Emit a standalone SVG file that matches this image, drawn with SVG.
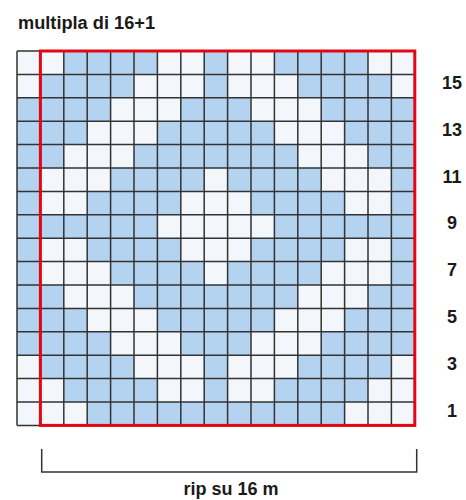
<svg xmlns="http://www.w3.org/2000/svg" width="466" height="500" viewBox="0 0 466 500">
<style>
.bg{fill:#f3f7fb}
.b{fill:#b4d3f1}
.grid{fill:none;stroke:#333;stroke-width:1.5}
.rep{fill:none;stroke:#e30613;stroke-width:3}
.t{font-family:"Liberation Sans",Arial,sans-serif;font-weight:bold;fill:#1a1a1a}
.num{font-family:"Liberation Sans",Arial,sans-serif;font-weight:bold;fill:#1a1a1a;font-size:18px;text-anchor:middle}
.br{fill:none;stroke:#333;stroke-width:1.5}
</style>
<text class="t" x="18" y="29" font-size="18" textLength="137" lengthAdjust="spacingAndGlyphs">multipla di 16+1</text>
<g id="chart">
<rect class="bg" x="17" y="51" width="397.8" height="374.4"/>
<g id="blue">
<rect class="b" x="63.8" y="51" width="93.6" height="23.4"/><rect class="b" x="204.2" y="51" width="23.4" height="23.4"/><rect class="b" x="274.4" y="51" width="93.6" height="23.4"/>
<rect class="b" x="40.4" y="74.4" width="93.6" height="23.4"/><rect class="b" x="204.2" y="74.4" width="23.4" height="23.4"/><rect class="b" x="297.8" y="74.4" width="93.6" height="23.4"/>
<rect class="b" x="17" y="97.8" width="93.6" height="23.4"/><rect class="b" x="180.8" y="97.8" width="70.2" height="23.4"/><rect class="b" x="321.2" y="97.8" width="93.6" height="23.4"/>
<rect class="b" x="17" y="121.2" width="70.2" height="23.4"/><rect class="b" x="157.4" y="121.2" width="117" height="23.4"/><rect class="b" x="344.6" y="121.2" width="70.2" height="23.4"/>
<rect class="b" x="17" y="144.6" width="46.8" height="23.4"/><rect class="b" x="134" y="144.6" width="163.8" height="23.4"/><rect class="b" x="368" y="144.6" width="46.8" height="23.4"/>
<rect class="b" x="17" y="168" width="23.4" height="23.4"/><rect class="b" x="110.6" y="168" width="93.6" height="23.4"/><rect class="b" x="227.6" y="168" width="93.6" height="23.4"/><rect class="b" x="391.4" y="168" width="23.4" height="23.4"/>
<rect class="b" x="17" y="191.4" width="23.4" height="23.4"/><rect class="b" x="87.2" y="191.4" width="93.6" height="23.4"/><rect class="b" x="251" y="191.4" width="93.6" height="23.4"/><rect class="b" x="391.4" y="191.4" width="23.4" height="23.4"/>
<rect class="b" x="17" y="214.8" width="140.4" height="23.4"/><rect class="b" x="274.4" y="214.8" width="140.4" height="23.4"/>
<rect class="b" x="17" y="238.2" width="23.4" height="23.4"/><rect class="b" x="87.2" y="238.2" width="93.6" height="23.4"/><rect class="b" x="251" y="238.2" width="93.6" height="23.4"/><rect class="b" x="391.4" y="238.2" width="23.4" height="23.4"/>
<rect class="b" x="17" y="261.6" width="23.4" height="23.4"/><rect class="b" x="110.6" y="261.6" width="93.6" height="23.4"/><rect class="b" x="227.6" y="261.6" width="93.6" height="23.4"/><rect class="b" x="391.4" y="261.6" width="23.4" height="23.4"/>
<rect class="b" x="17" y="285" width="46.8" height="23.4"/><rect class="b" x="134" y="285" width="163.8" height="23.4"/><rect class="b" x="368" y="285" width="46.8" height="23.4"/>
<rect class="b" x="17" y="308.4" width="70.2" height="23.4"/><rect class="b" x="157.4" y="308.4" width="117" height="23.4"/><rect class="b" x="344.6" y="308.4" width="70.2" height="23.4"/>
<rect class="b" x="17" y="331.8" width="93.6" height="23.4"/><rect class="b" x="180.8" y="331.8" width="70.2" height="23.4"/><rect class="b" x="321.2" y="331.8" width="93.6" height="23.4"/>
<rect class="b" x="40.4" y="355.2" width="93.6" height="23.4"/><rect class="b" x="204.2" y="355.2" width="23.4" height="23.4"/><rect class="b" x="297.8" y="355.2" width="93.6" height="23.4"/>
<rect class="b" x="63.8" y="378.6" width="93.6" height="23.4"/><rect class="b" x="204.2" y="378.6" width="23.4" height="23.4"/><rect class="b" x="274.4" y="378.6" width="93.6" height="23.4"/>
<rect class="b" x="87.2" y="402" width="257.4" height="23.4"/>
</g>
<path class="grid" d="M17 51V425.4M40.4 51V425.4M63.8 51V425.4M87.2 51V425.4M110.6 51V425.4M134 51V425.4M157.4 51V425.4M180.8 51V425.4M204.2 51V425.4M227.6 51V425.4M251 51V425.4M274.4 51V425.4M297.8 51V425.4M321.2 51V425.4M344.6 51V425.4M368 51V425.4M391.4 51V425.4M414.8 51V425.4M17 51H414.8M17 74.4H414.8M17 97.8H414.8M17 121.2H414.8M17 144.6H414.8M17 168H414.8M17 191.4H414.8M17 214.8H414.8M17 238.2H414.8M17 261.6H414.8M17 285H414.8M17 308.4H414.8M17 331.8H414.8M17 355.2H414.8M17 378.6H414.8M17 402H414.8M17 425.4H414.8"/>
<rect class="rep" x="40.4" y="51" width="374.4" height="374.4"/>
</g>
<g id="rows">
<text class="num" x="452" y="89">15</text>
<text class="num" x="452" y="136">13</text>
<text class="num" x="452" y="183">11</text>
<text class="num" x="452" y="229">9</text>
<text class="num" x="452" y="276">7</text>
<text class="num" x="452" y="323">5</text>
<text class="num" x="452" y="370">3</text>
<text class="num" x="452" y="417">1</text>
</g>
<g id="repeat">
<path class="br" d="M41.7 449V472H416.7V449"/>
<text class="t" x="231" y="495" font-size="18" text-anchor="middle">rip su 16 m</text>
</g>
</svg>
